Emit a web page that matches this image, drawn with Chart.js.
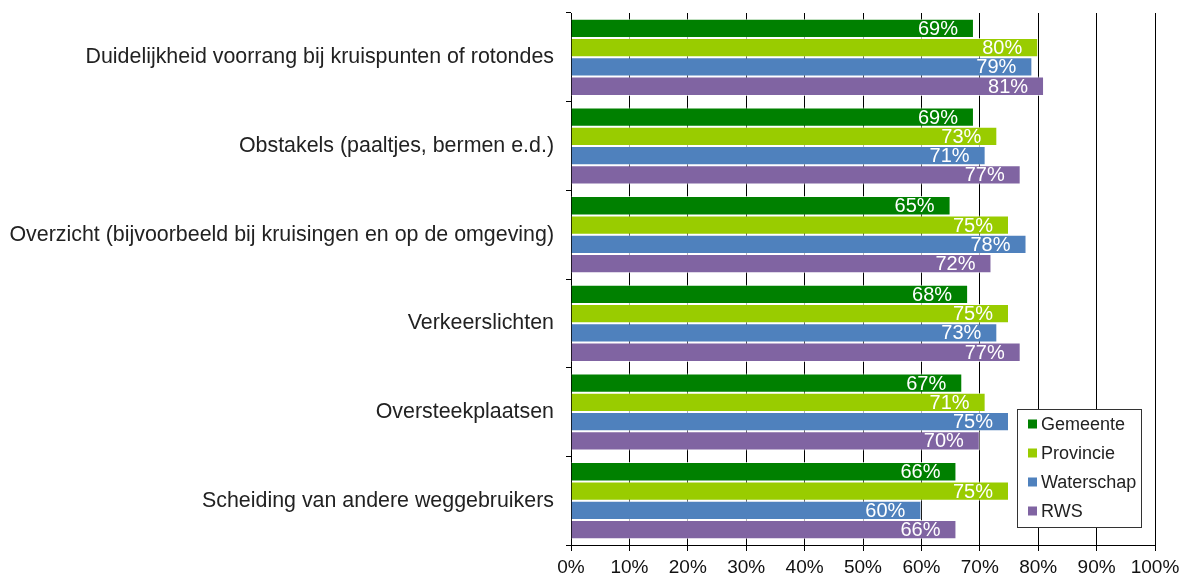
<!DOCTYPE html>
<html>
<head>
<meta charset="utf-8">
<script src="https://cdn.jsdelivr.net/npm/chart.js@4"></script>
<style>
  html, body { margin: 0; padding: 0; background: #fff; }
  #wrap { width: 1189px; height: 581px; }
</style>
</head>
<body>
<div id="wrap"><canvas id="chart" width="1189" height="581"></canvas></div>
<script>
var categories = [
  "Duidelijkheid voorrang bij kruispunten of rotondes",
  "Obstakels (paaltjes, bermen e.d.)",
  "Overzicht (bijvoorbeeld bij kruisingen en op de omgeving)",
  "Verkeerslichten",
  "Oversteekplaatsen",
  "Scheiding van andere weggebruikers"
];
var gemeente = [69, 69, 65, 68, 67, 66];
var provincie = [80, 73, 75, 75, 71, 75];
var waterschap = [79, 71, 78, 73, 75, 60];
var rws = [81, 77, 72, 77, 70, 66];
var seriesNames = ["Gemeente", "Provincie", "Waterschap", "RWS"];
var seriesColors = ["#008000", "#99cc00", "#4f81bd", "#8064a2"];

var font = "'Liberation Sans', Arial, sans-serif";

// white value labels at the inner end of each bar
var valueLabels = {
  id: "valueLabels",
  afterDatasetsDraw: function(chart) {
    var ctx = chart.ctx;
    ctx.save();
    ctx.font = "20px " + font;
    ctx.fillStyle = "#ffffff";
    ctx.textAlign = "right";
    ctx.textBaseline = "middle";
    chart.data.datasets.forEach(function(ds, i) {
      var meta = chart.getDatasetMeta(i);
      meta.data.forEach(function(bar, j) {
        ctx.fillText(ds.data[j] + "%", bar.x - 16, bar.y + 1);
      });
    });
    ctx.restore();
  }
};

// boxed legend inside the plot, bottom right
var boxLegend = {
  id: "boxLegend",
  afterDraw: function(chart) {
    var ctx = chart.ctx;
    var x = 1017, y = 409, w = 124, h = 118;
    ctx.save();
    ctx.fillStyle = "#ffffff";
    ctx.fillRect(x, y, w, h);
    ctx.strokeStyle = "#333333";
    ctx.lineWidth = 1;
    ctx.strokeRect(x + 0.5, y + 0.5, w, h);
    ctx.font = "18px " + font;
    ctx.textBaseline = "middle";
    chart.data.datasets.forEach(function(ds, i) {
      var cy = y + 15 + i * 29;
      ctx.fillStyle = ds.backgroundColor;
      ctx.fillRect(x + 11, cy - 4.5, 9, 9);
      ctx.fillStyle = "#222222";
      ctx.fillText(ds.label, x + 24, cy + 1);
    });
    ctx.restore();
  }
};

var allData = [gemeente, provincie, waterschap, rws];
var datasets = allData.map(function(vals, i) {
  return {
    label: seriesNames[i],
    data: vals,
    backgroundColor: seriesColors[i],
    borderColor: "rgba(255,255,255,0.7)",
    borderWidth: 1,
    categoryPercentage: 0.87,
    barPercentage: 1.0
  };
});

var ctx = document.getElementById("chart").getContext("2d");
new Chart(ctx, {
  type: "bar",
  data: { labels: categories, datasets: datasets },
  plugins: [valueLabels, boxLegend],
  options: {
    indexAxis: "y",
    responsive: false,
    animation: false,
    layout: { padding: { top: 13, right: 34, left: 0, bottom: 0 } },
    plugins: {
      legend: { display: false },
      tooltip: { enabled: false }
    },
    scales: {
      x: {
        min: 0,
        max: 100,
        ticks: {
          stepSize: 10,
          color: "#111111",
          font: { family: font, size: 19 },
          padding: 5,
          callback: function(v) { return v + "%"; }
        },
        grid: { color: "#000000", lineWidth: 1, tickLength: 6 },
        border: { color: "#000000" },
        afterFit: function(scale) { scale.height = 36; }
      },
      y: {
        ticks: {
          color: "#222222",
          font: { family: font, size: 21.4 },
          padding: 12
        },
        grid: {
          offset: true,
          drawOnChartArea: false,
          color: "#000000",
          tickLength: 5
        },
        border: { color: "#000000" },
        afterFit: function(scale) {
          scale.width = 571;
          scale.paddingTop = 0;
          scale.paddingBottom = 0;
        }
      }
    }
  }
});
</script>
</body>
</html>
